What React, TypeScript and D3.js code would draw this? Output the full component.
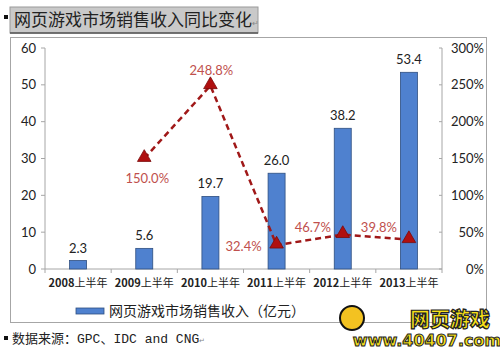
import React from "react";
import * as d3 from "d3";

const categories = ["2008上半年", "2009上半年", "2010上半年", "2011上半年", "2012上半年", "2013上半年"];
const revenue = [2.3, 5.6, 19.7, 26.0, 38.2, 53.4];
const growth: (number | null)[] = [null, 150.0, 248.8, 32.4, 46.7, 39.8];
const leftTicks = [0, 10, 20, 30, 40, 50, 60];
const rightTicks = [0, 50, 100, 150, 200, 250, 300];

const W = 500;
const H = 353;
const plot = { left: 45, right: 442, top: 48, bottom: 269 };

export default function App() {
  const x = d3.scaleBand<string>().domain(categories).range([plot.left, plot.right]);
  const yL = d3.scaleLinear().domain([0, 60]).range([plot.bottom, plot.top]);
  const yR = d3.scaleLinear().domain([0, 300]).range([plot.bottom, plot.top]);
  const barW = 17;
  const cx = (c: string) => (x(c) ?? 0) + x.bandwidth() / 2;

  const pts = categories
    .map((c, i) => ({ c, v: growth[i] }))
    .filter(d => d.v != null) as { c: string; v: number }[];
  const line = d3.line<{ c: string; v: number }>().x(d => cx(d.c)).y(d => yR(d.v));
  const tri = d3.symbol().type(d3.symbolTriangle).size(80);

  // label offsets for the growth values
  const gLabelPos: Record<string, [number, number]> = {
    "2009上半年": [3, 24],
    "2010上半年": [1, -11],
    "2011上半年": [-33, 6],
    "2012上半年": [-30, -3],
    "2013上半年": [-30, -8],
  };

  const cjk = "'Noto Sans CJK SC', 'Noto Sans', sans-serif";
  const num = "Lato, 'Open Sans', sans-serif";

  return (
    <svg width={W} height={H} style={{ position: "absolute", left: 0, top: 0, background: "#fff" }}>
      {/* title bar */}
      <rect x={4} y={15} width={4} height={4} fill="#111" />
      <rect x={10} y={7} width={248} height={26} fill="#c9c9c9" stroke="#9a9a9a" />
      <line x1={10} x2={258} y1={33} y2={33} stroke="#555" strokeWidth={1.5} />
      <text x={14} y={26} fontFamily={cjk} fontSize={17} fill="#222">
        网页游戏市场销售收入同比变化<tspan fontSize={8} fill="#888">↵</tspan>
      </text>

      {/* chart frame */}
      <rect x={10.5} y={37.5} width={476} height={285} fill="#fff" stroke="#a6a6a6" />

      {/* left axis */}
      <line x1={plot.left} x2={plot.left} y1={plot.top} y2={plot.bottom} stroke="#a6a6a6" />
      {leftTicks.map(t => (
        <g key={t}>
          <line x1={plot.left - 4} x2={plot.left} y1={yL(t)} y2={yL(t)} stroke="#a6a6a6" />
          <text x={plot.left - 9} y={yL(t)} dy="0.35em" textAnchor="end" fontFamily={num} fontSize={13} fill="#222">
            {t}
          </text>
        </g>
      ))}

      {/* right axis */}
      <line x1={plot.right} x2={plot.right} y1={plot.top} y2={plot.bottom} stroke="#a6a6a6" />
      {rightTicks.map(t => (
        <g key={t}>
          <line x1={plot.right - 3} x2={plot.right} y1={yR(t)} y2={yR(t)} stroke="#a6a6a6" />
          <text x={plot.right + 42} y={yR(t)} dy="0.35em" textAnchor="end" fontFamily={num} fontSize={13} fill="#222">
            {t}%
          </text>
        </g>
      ))}

      {/* x axis */}
      <line x1={plot.left} x2={plot.right} y1={plot.bottom} y2={plot.bottom} stroke="#a6a6a6" />
      {categories.map(c => (
        <line key={c} x1={x(c) ?? 0} x2={x(c) ?? 0} y1={plot.bottom} y2={plot.bottom + 4} stroke="#a6a6a6" />
      ))}
      <line x1={plot.right} x2={plot.right} y1={plot.bottom} y2={plot.bottom + 4} stroke="#a6a6a6" />
      {categories.map(c => (
        <text key={c} x={cx(c)} y={plot.bottom + 18} textAnchor="middle" fontFamily={cjk} fontSize={11} fill="#222">
          <tspan fontWeight={700}>{c.slice(0, 4)}</tspan>{c.slice(4)}
        </text>
      ))}

      {/* bars */}
      {categories.map((c, i) => (
        <g key={c}>
          <rect x={cx(c) - barW / 2} y={yL(revenue[i])} width={barW} height={plot.bottom - yL(revenue[i])}
            fill="#4f81cf" stroke="#2f4f80" strokeWidth={0.8} />
          <text x={cx(c)} y={yL(revenue[i]) - 8} textAnchor="middle" fontFamily={num} fontSize={13} fill="#222">
            {revenue[i].toFixed(1)}
          </text>
        </g>
      ))}

      {/* growth line */}
      <path d={line(pts) ?? ""} fill="none" stroke="#a01818" strokeWidth={2.5} strokeDasharray="6,4" />
      {pts.map(d => (
        <path key={d.c} d={tri() ?? ""} transform={`translate(${cx(d.c)},${yR(d.v) - 1})`} fill="#b01010" stroke="#7a0a0a" strokeWidth={0.8} />
      ))}
      {pts.map(d => {
        const [dx, dy] = gLabelPos[d.c];
        return (
          <text key={d.c} x={cx(d.c) + dx} y={yR(d.v) + dy} textAnchor="middle" fontFamily={num} fontSize={13} fill="#c0504d">
            {d.v.toFixed(1)}%
          </text>
        );
      })}

      {/* legend */}
      <rect x={76} y={308} width={28} height={6} fill="#4f81cf" stroke="#2f4f80" strokeWidth={0.8} />
      <text x={109} y={316} fontFamily={cjk} fontSize={14} fill="#222">
        网页游戏市场销售收入（亿元）
      </text>

      {/* source */}
      <rect x={4} y={336} width={4} height={4} fill="#111" />
      <text x={12} y={343} fontFamily={cjk} fontSize={13} fill="#222">
        数据来源：<tspan fontFamily="'Liberation Mono', monospace">GPC</tspan>、<tspan fontFamily="'Liberation Mono', monospace">IDC and CNG</tspan><tspan fontSize={7} fill="#888">↵</tspan>
      </text>

      {/* watermark logo */}
      <circle cx={352} cy={318} r={12} fill="#f3c221" stroke="#111" strokeWidth={2} />
      <text x={450} y={327} textAnchor="middle" fontFamily={cjk} fontSize={20} fontWeight={900} fill="#f7e018" stroke="#222" strokeWidth={1.2}>
        网页游戏
      </text>
      <text x={427} y={346} textAnchor="middle" fontFamily="'DejaVu Sans', sans-serif" fontSize={16} fontWeight={900} fill="#f7e018" stroke="#222" strokeWidth={1}>
        www.40407.com
      </text>
    </svg>
  );
}
